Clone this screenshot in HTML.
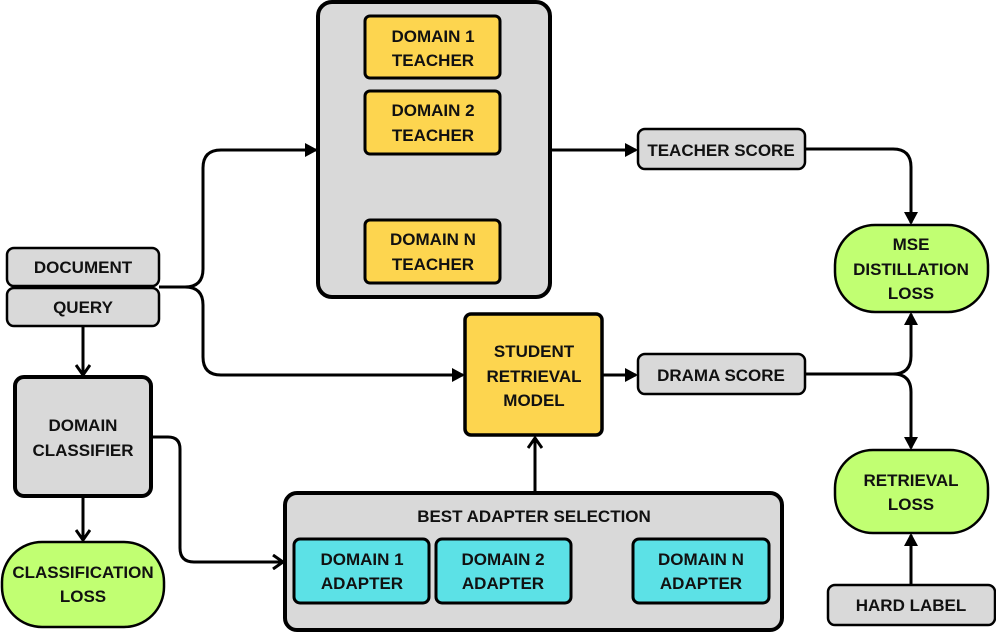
<!DOCTYPE html>
<html><head><meta charset="utf-8"><style>
html,body{margin:0;padding:0;background:#fff;}
svg{display:block;}
text{font-family:"Liberation Sans",sans-serif;font-weight:bold;font-size:17px;fill:#111;text-anchor:middle;}
</style></head><body>
<svg width="996" height="633" viewBox="0 0 996 633" xmlns="http://www.w3.org/2000/svg">
<defs>
<marker id="tri" markerWidth="13" markerHeight="14" refX="11" refY="7" orient="auto" markerUnits="userSpaceOnUse"><path d="M0,0 L13,7 L0,14 z" fill="#000"/></marker>
<marker id="chev" markerWidth="16" markerHeight="16" refX="13" refY="8" orient="auto" markerUnits="userSpaceOnUse"><path d="M3,1 L13,8 L3,15" fill="none" stroke="#000" stroke-width="3"/></marker>
</defs>
<g fill="none" stroke="#000" stroke-width="3">
<path d="M159,287 H185 Q203,287 203,269 V168 Q203,150 221,150 H316" marker-end="url(#tri)"/>
<path d="M159,287 H185 Q203,287 203,305 V357 Q203,375 221,375 H463" marker-end="url(#tri)"/>
<path d="M83,326 V375" marker-end="url(#chev)"/>
<path d="M151,437 H168 Q180,437 180,449 V548 Q180,562 194,562 H283" marker-end="url(#chev)"/>
<path d="M83,496 V540" marker-end="url(#chev)"/>
<path d="M535,492 V438" marker-end="url(#chev)"/>
<path d="M550,150 H636" marker-end="url(#tri)"/>
<path d="M602,375 H636" marker-end="url(#tri)"/>
<path d="M805,149 H893 Q911,149 911,167 V223" marker-end="url(#tri)"/>
<path d="M805,374 H893 Q911,374 911,356 V314" marker-end="url(#tri)"/>
<path d="M893,374 Q911,374 911,392 V448" marker-end="url(#tri)"/>
<path d="M911,585 V535" marker-end="url(#tri)"/>
</g>
<g stroke="#000">
<rect x="318" y="2" width="232" height="295" rx="14" fill="#d9d9d9" stroke-width="4"/>
<rect x="365" y="16" width="135" height="62" rx="5" fill="#fdd54f" stroke-width="3"/>
<rect x="365" y="91" width="135" height="63" rx="5" fill="#fdd54f" stroke-width="3"/>
<rect x="365" y="220" width="135" height="63" rx="5" fill="#fdd54f" stroke-width="3"/>
<rect x="638" y="129" width="167" height="40" rx="7" fill="#d9d9d9" stroke-width="2.5"/>
<rect x="638" y="354" width="167" height="40" rx="7" fill="#d9d9d9" stroke-width="2.5"/>
<rect x="835" y="225" width="153" height="87" rx="40" fill="#c1ff72" stroke-width="2.5"/>
<rect x="835" y="450" width="153" height="83" rx="38" fill="#c1ff72" stroke-width="2.5"/>
<rect x="828" y="585" width="167" height="40" rx="7" fill="#d9d9d9" stroke-width="2.5"/>
<rect x="7" y="248" width="152" height="38" rx="7" fill="#d9d9d9" stroke-width="2.5"/>
<rect x="7" y="288" width="152" height="38" rx="7" fill="#d9d9d9" stroke-width="2.5"/>
<rect x="15" y="377" width="136" height="119" rx="9" fill="#d9d9d9" stroke-width="4"/>
<rect x="2" y="542" width="162" height="85" rx="40" fill="#c1ff72" stroke-width="2.5"/>
<rect x="465" y="314" width="137" height="121" rx="6" fill="#fdd54f" stroke-width="3.5"/>
<rect x="285" y="493" width="497" height="137" rx="12" fill="#d9d9d9" stroke-width="4"/>
<rect x="294" y="539" width="135" height="64" rx="6" fill="#5ce1e6" stroke-width="3"/>
<rect x="436" y="539" width="135" height="64" rx="6" fill="#5ce1e6" stroke-width="3"/>
<rect x="633" y="539" width="136" height="64" rx="6" fill="#5ce1e6" stroke-width="3"/>
</g>
<text x="433" y="42">DOMAIN 1</text><text x="433" y="66">TEACHER</text>
<text x="433" y="116">DOMAIN 2</text><text x="433" y="141">TEACHER</text>
<text x="433" y="245">DOMAIN N</text><text x="433" y="270">TEACHER</text>
<text x="721" y="156">TEACHER SCORE</text>
<text x="721" y="381">DRAMA SCORE</text>
<text x="911" y="250">MSE</text><text x="911" y="275">DISTILLATION</text><text x="911" y="299">LOSS</text>
<text x="911" y="486">RETRIEVAL</text><text x="911" y="510">LOSS</text>
<text x="911" y="611">HARD LABEL</text>
<text x="83" y="273">DOCUMENT</text>
<text x="83" y="313">QUERY</text>
<text x="83" y="431">DOMAIN</text><text x="83" y="456">CLASSIFIER</text>
<text x="83" y="578">CLASSIFICATION</text><text x="83" y="602">LOSS</text>
<text x="534" y="357">STUDENT</text><text x="534" y="382">RETRIEVAL</text><text x="534" y="406">MODEL</text>
<text x="534" y="522">BEST ADAPTER SELECTION</text>
<text x="362" y="565">DOMAIN 1</text><text x="362" y="589">ADAPTER</text>
<text x="503" y="565">DOMAIN 2</text><text x="503" y="589">ADAPTER</text>
<text x="701" y="565">DOMAIN N</text><text x="701" y="589">ADAPTER</text>
</svg>
</body></html>
